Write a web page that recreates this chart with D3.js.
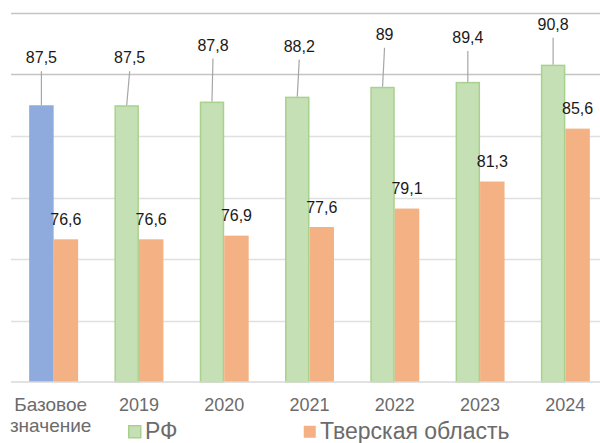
<!DOCTYPE html>
<html>
<head>
<meta charset="utf-8">
<script src="https://cdn.jsdelivr.net/npm/d3@7"></script>
<style>
  body { margin: 0; background: #fff; }
  svg { display: block; font-family: "Liberation Sans", Arial, sans-serif; }
</style>
</head>
<body>
<svg id="chart" width="600" height="443"></svg>
<script>
var categories = ["Базовое значение", "2019", "2020", "2021", "2022", "2023", "2024"];
var rfValues = [87.5, 87.5, 87.8, 88.2, 89, 89.4, 90.8];
var tverValues = [76.6, 76.6, 76.9, 77.6, 79.1, 81.3, 85.6];
var seriesNames = ["РФ", "Тверская область"];
var yTicks = [65, 70, 75, 80, 85, 90, 95];

// leader label nudges for the RF labels (dragged by hand in the original)
var rfLabelLift = [42, 42, 51, 45, 47, 39, 35];
var rfLabelShift = [0, 3, 1, 2, 2, 0, 0];

var width = 600;
var height = 443;
var svg = d3.select("#chart");

var x0 = d3.scaleBand()
    .domain(categories)
    .range([11, 608])
    .paddingInner(0.426)
    .paddingOuter(0.213);

var x1 = d3.scaleBand()
    .domain(["rf", "tver"])
    .range([0, x0.bandwidth()]);

var y = d3.scaleLinear()
    .domain([65, 95])
    .range([382, 13]);

// gridlines
svg.append("g")
    .selectAll("line")
    .data(yTicks.slice(1))
    .enter().append("line")
    .attr("x1", 11)
    .attr("x2", width)
    .attr("y1", function (d) { return Math.round(y(d)) + 0.5; })
    .attr("y2", function (d) { return Math.round(y(d)) + 0.5; })
    .style("stroke", function (d) { return d >= 90 ? "#c4c4c4" : "#e0e0e0"; })
    .style("stroke-width", 1.5);

var data = categories.map(function (c, i) {
    return { cat: c, rf: rfValues[i], tver: tverValues[i], i: i };
});

var groups = svg.append("g")
    .selectAll("g")
    .data(data)
    .enter().append("g")
    .attr("transform", function (d) { return "translate(" + x0(d.cat) + ",0)"; });

// RF bars (base value drawn in blue)
groups.append("rect")
    .attr("x", function (d) { return x1("rf") + (d.i === 0 ? 0 : 0.75); })
    .attr("width", function (d) { return x1.bandwidth() - (d.i === 0 ? 0 : 1.5); })
    .attr("y", function (d) { return y(d.rf) + (d.i === 0 ? 0 : 0.75); })
    .attr("height", function (d) { return y(65) - y(d.rf) - (d.i === 0 ? 0 : 0.75); })
    .style("fill", function (d) { return d.i === 0 ? "#8faadc" : "#c5e0b4"; })
    .style("stroke", function (d) { return d.i === 0 ? "none" : "#a9d18e"; })
    .style("stroke-width", 1.5);

groups.append("rect")
    .attr("x", x1("tver"))
    .attr("width", x1.bandwidth())
    .attr("y", function (d) { return y(d.tver); })
    .attr("height", function (d) { return y(65) - y(d.tver); })
    .style("fill", "#f4b183");

// axis line
svg.append("line")
    .attr("x1", 11)
    .attr("x2", width)
    .attr("y1", y(65))
    .attr("y2", y(65))
    .style("stroke", "#d9d9d9")
    .style("stroke-width", 1.5);

var fmt = function (v) { return String(v).replace(".", ","); };

// RF labels with leader lines
groups.append("line")
    .attr("x1", function (d) { return x1("rf") + x1.bandwidth() / 2; })
    .attr("y1", function (d) { return y(d.rf); })
    .attr("x2", function (d) { return x1("rf") + x1.bandwidth() / 2 + rfLabelShift[d.i]; })
    .attr("y2", function (d) { return y(d.rf) - rfLabelLift[d.i] + 8; })
    .style("stroke", "#a6a6a6")
    .style("stroke-width", 1.2);

groups.append("text")
    .attr("x", function (d) { return x1("rf") + x1.bandwidth() / 2 + rfLabelShift[d.i]; })
    .attr("y", function (d) { return y(d.rf) - rfLabelLift[d.i]; })
    .attr("text-anchor", "middle")
    .style("font-size", "16px")
    .style("fill", "#1a1a1a")
    .text(function (d) { return fmt(d.rf); });

groups.append("text")
    .attr("x", x1("tver") + x1.bandwidth() / 2)
    .attr("y", function (d) { return y(d.tver) - 14.5; })
    .attr("text-anchor", "middle")
    .style("font-size", "16px")
    .style("fill", "#1a1a1a")
    .text(function (d) { return fmt(d.tver); });

// category labels
var catLabels = svg.append("g")
    .selectAll("text")
    .data(categories)
    .enter().append("text")
    .attr("x", function (d) { return x0(d) + x0.bandwidth() / 2; })
    .attr("y", 411)
    .attr("text-anchor", "middle")
    .style("font-size", "18px")
    .style("fill", "#6b6b6b");

catLabels.each(function (d) {
    var words = d.split(" ");
    var t = d3.select(this);
    words.forEach(function (w, k) {
        t.append("tspan")
            .attr("x", x0(d) + x0.bandwidth() / 2 - (words.length > 1 ? 3 : 0))
            .attr("dy", k === 0 ? 0 : 21)
            .style("font-size", words.length > 1 ? "19px" : null)
            .text(w);
    });
});

// legend
var legendColors = ["#c5e0b4", "#f4b183"];
var legendStroke = ["#a9d18e", "none"];
var legendX = [128, 303];
var legend = svg.append("g")
    .selectAll("g")
    .data(seriesNames)
    .enter().append("g")
    .attr("transform", function (d, i) { return "translate(" + legendX[i] + ",0)"; });

legend.append("rect")
    .attr("x", 0.75)
    .attr("y", 425.75)
    .attr("width", 12)
    .attr("height", 12)
    .style("fill", function (d, i) { return legendColors[i]; })
    .style("stroke", function (d, i) { return legendStroke[i]; })
    .style("stroke-width", 1.5);

legend.append("text")
    .attr("x", 17)
    .attr("y", 439)
    .style("font-size", "23px")
    .style("fill", "#6b6b6b")
    .text(function (d) { return d; });
</script>
</body>
</html>
